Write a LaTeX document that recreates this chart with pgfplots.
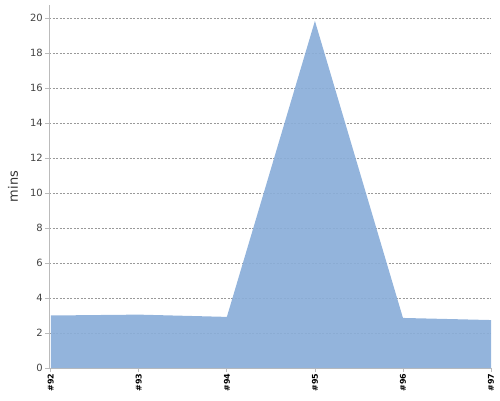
\documentclass[border=0pt]{standalone}
\usepackage{pgfplots}
\pgfplotsset{compat=1.18}
\usepackage{fontspec}
\setmainfont{DejaVu Sans}
\definecolor{areafill}{HTML}{8AAED9}
\definecolor{axisgray}{HTML}{BBBBBB}
\definecolor{gridgray}{HTML}{999999}
\definecolor{ticktext}{HTML}{444444}

\begin{document}
\begin{tikzpicture}[x=1bp,y=1bp]
\path[use as bounding box] (0,0) rectangle (500,400);
\begin{axis}[
    at={(49bp,32bp)}, anchor=south west,
    scale only axis, width=442bp, height=363bp,
    xmin=-0.02, xmax=5, ymin=0, ymax=20.74,
    axis x line*=bottom, axis y line*=left,
    axis line style={axisgray, line width=1bp, -},
    xtick={0,1,2,3,4,5},
    xticklabels={\#92,\#93,\#94,\#95,\#96,\#97},
    x tick label style={rotate=90, anchor=east, font=\fontsize{8}{9}\selectfont\bfseries, inner sep=1.5bp},
    ytick={0,2,...,20},
    y tick label style={font=\fontsize{10}{12}\selectfont, text=ticktext, inner sep=2bp},
    /pgf/number format/assume math mode=true,
    tick style={axisgray, line width=0.8bp},
    tick align=outside, major tick length=4bp,
    ymajorgrids=true,
    grid style={gridgray, line width=0.5bp, dash pattern=on 2bp off 1.5bp},
    ylabel={mins},
    every axis y label/.style={at={(rel axis cs:0,0.5)}, rotate=90, anchor=center, yshift=36bp,
        font=\fontsize{13}{15}\selectfont, text=black!80},
]
\addplot[draw=none, fill=areafill, fill opacity=0.92] coordinates {
    (0,3.0) (1,3.05) (2,2.92) (3,19.83) (4,2.86) (5,2.74)
} \closedcycle;
\end{axis}
\end{tikzpicture}
\end{document}
